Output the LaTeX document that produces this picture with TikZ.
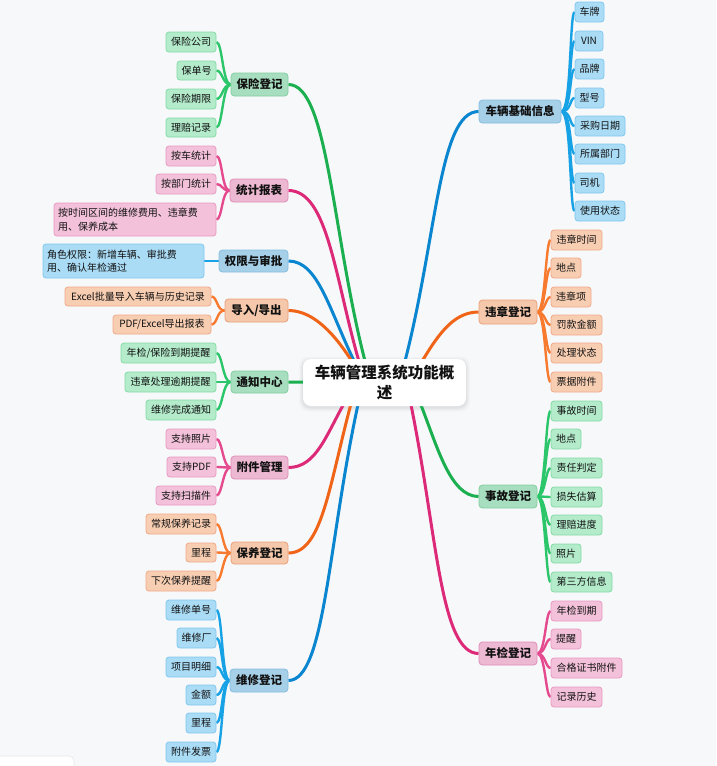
\documentclass[tikz,border=0pt]{standalone}
\usepackage{fontspec}
\setmainfont{Noto Sans CJK SC}
\usetikzlibrary{calc}
\definecolor{bgc}{HTML}{F7F8FA}
\definecolor{txt}{HTML}{111111}
% connector colours
\definecolor{cBc}{HTML}{0A86D0}\definecolor{eBc}{HTML}{17A2E6}
\definecolor{cGc}{HTML}{1BAF50}\definecolor{eGc}{HTML}{2CC66A}
\definecolor{cOc}{HTML}{F06418}\definecolor{eOc}{HTML}{F77A2E}
\definecolor{cPc}{HTML}{DD2A78}\definecolor{ePc}{HTML}{E5498E}
% fills
\definecolor{mBf}{HTML}{A6CFE8}\definecolor{mBd}{HTML}{86BEE0}
\definecolor{lBf}{HTML}{AADCF6}\definecolor{lBd}{HTML}{80C8EE}
\definecolor{mGf}{HTML}{A8DEC0}\definecolor{mGd}{HTML}{82CFA0}
\definecolor{lGf}{HTML}{B3EBCB}\definecolor{lGd}{HTML}{84DBA6}
\definecolor{mPf}{HTML}{EDB8D2}\definecolor{mPd}{HTML}{E08FB8}
\definecolor{lPf}{HTML}{F3C2DA}\definecolor{lPd}{HTML}{E89AC2}
\definecolor{mOf}{HTML}{F5C7AB}\definecolor{mOd}{HTML}{ECA07A}
\definecolor{lOf}{HTML}{F8CEB3}\definecolor{lOd}{HTML}{F0A987}
\pgfdeclarelayer{lines}
\pgfsetlayers{lines,main}
\newcommand\nd[7]{\node[#1, minimum width={(#5)-(#3)}, minimum height={(#6)-(#4)}] (#2) at ({((#3)+(#5))/2},{((#4)+(#6))/2}) {#7};}
\begin{document}
\begin{tikzpicture}[x=1pt,y=-1pt,
  box/.style={rounded corners=3pt, line width=0.8pt, inner sep=1pt, text=txt, font=\fontsize{10}{12}\selectfont},
  mbox/.style={box, rounded corners=3.5pt, font=\fontsize{11.5}{13}\selectfont\bfseries},
  lB/.style={box, fill=lBf, draw=lBd}, mB/.style={mbox, fill=mBf, draw=mBd},
  lG/.style={box, fill=lGf, draw=lGd}, mG/.style={mbox, fill=mGf, draw=mGd},
  lP/.style={box, fill=lPf, draw=lPd}, mP/.style={mbox, fill=mPf, draw=mPd},
  lO/.style={box, fill=lOf, draw=lOd}, mO/.style={mbox, fill=mOf, draw=mOd},
  rootbox/.style={fill=white, rounded corners=8pt, align=center, text=txt, inner sep=0pt,
     font=\fontsize{15.5}{20}\selectfont\bfseries},
  cB/.style={draw=cBc, line width=3pt}, eB/.style={draw=eBc, line width=2.4pt},
  cG/.style={draw=cGc, line width=3pt}, eG/.style={draw=eGc, line width=2.4pt},
  cO/.style={draw=cOc, line width=3pt}, eO/.style={draw=eOc, line width=2.4pt},
  cP/.style={draw=cPc, line width=3pt}, eP/.style={draw=ePc, line width=2.4pt},
  multi/.style={align=left, inner xsep=4pt, font=\fontsize{10}{13.5}\selectfont}
]
\useasboundingbox (0,0) rectangle (716,766);

% ---------- root ----------
\nd{rootbox}{root}{303}{359}{466}{406}{车辆管理系统功能概\\述}

% ---------- left main nodes ----------
\nd{mG}{ins}{231}{73}{288}{96}{保险登记}
\nd{mP}{sta}{230}{179}{288}{202}{统计报表}
\nd{mB}{auth}{219}{250}{288}{272}{权限与审批}
\nd{mO}{io}{225}{299}{288}{322}{导入/导出}
\nd{mG}{ntf}{231}{371}{288}{393}{通知中心}
\nd{mP}{att}{231}{456}{288}{479}{附件管理}
\nd{mO}{mnt}{231}{542}{288}{564}{保养登记}
\nd{mB}{rep}{230}{669}{288}{692}{维修登记}
% ---------- right main nodes ----------
\nd{mB}{veh}{479}{100}{561}{123}{车辆基础信息}
\nd{mO}{vio}{479}{300}{537}{324}{违章登记}
\nd{mG}{acc}{479}{485}{537}{508}{事故登记}
\nd{mP}{ann}{479}{642}{537}{665}{年检登记}

% ---------- leaves ----------
\nd{lG}{g1}{166}{32}{216}{52}{保险公司}
\nd{lG}{g2}{177}{61}{216}{80}{保单号}
\nd{lG}{g3}{166}{89}{216}{109}{保险期限}
\nd{lG}{g4}{166}{118}{216}{137}{理赔记录}

\nd{lP}{p1}{166}{146}{216}{166}{按车统计}
\nd{lP}{p2}{156}{174}{216}{194}{按部门统计}
\node[lP, multi, text width=154pt, minimum height=33pt] (p3) at (135,219.5) {按时间区间的维修费用、违章费\\用、保养成本};

\node[lB, multi, text width=153pt, minimum height=34pt] (b1) at (123.5,261) {角色权限：新增车辆、审批费\\用、确认年检通过};

\nd{lO}{o1}{65}{287}{211}{306}{Excel批量导入车辆与历史记录}
\nd{lO}{o2}{113}{315}{211}{334}{PDF/Excel导出报表}

\nd{lG}{n1}{121}{343}{216}{363}{年检/保险到期提醒}
\nd{lG}{n2}{125}{372}{216}{392}{违章处理逾期提醒}
\nd{lG}{n3}{146}{400}{216}{420}{维修完成通知}

\nd{lP}{a1}{166}{429}{216}{449}{支持照片}
\nd{lP}{a2}{167}{457}{216}{477}{支持PDF}
\nd{lP}{a3}{156}{486}{216}{505}{支持扫描件}

\nd{lO}{m1}{146}{514}{216}{534}{常规保养记录}
\nd{lO}{m2}{186}{543}{216}{562}{里程}
\nd{lO}{m3}{146}{571}{216}{591}{下次保养提醒}

\nd{lB}{r1}{166}{600}{216}{620}{维修单号}
\nd{lB}{r2}{177}{628}{216}{648}{维修厂}
\nd{lB}{r3}{166}{657}{216}{677}{项目明细}
\nd{lB}{r4}{186}{685}{216}{705}{金额}
\nd{lB}{r5}{186}{713}{216}{733}{里程}
\nd{lB}{r6}{166}{742}{216}{762}{附件发票}

\nd{lB}{v1}{575}{2}{604}{22}{车牌}
\nd{lB}{v2}{575}{31}{603}{51}{VIN}
\nd{lB}{v3}{575}{59}{604}{79}{品牌}
\nd{lB}{v4}{575}{88}{604}{108}{型号}
\nd{lB}{v5}{575}{116}{625}{136}{采购日期}
\nd{lB}{v6}{575}{144}{625}{164}{所属部门}
\nd{lB}{v7}{575}{173}{604}{193}{司机}
\nd{lB}{v8}{575}{201}{625}{221}{使用状态}

\nd{lO}{w1}{551}{230}{602}{250}{违章时间}
\nd{lO}{w2}{551}{258}{581}{278}{地点}
\nd{lO}{w3}{551}{287}{591}{307}{违章项}
\nd{lO}{w4}{551}{315}{602}{335}{罚款金额}
\nd{lO}{w5}{551}{343}{602}{363}{处理状态}
\nd{lO}{w6}{551}{372}{602}{392}{票据附件}

\nd{lG}{c1}{551}{401}{602}{421}{事故时间}
\nd{lG}{c2}{551}{429}{581}{449}{地点}
\nd{lG}{c3}{551}{458}{602}{478}{责任判定}
\nd{lG}{c4}{551}{487}{602}{507}{损失估算}
\nd{lG}{c5}{551}{515}{602}{535}{理赔进度}
\nd{lG}{c6}{551}{544}{581}{563}{照片}
\nd{lG}{c7}{551}{572}{612}{592}{第三方信息}

\nd{lP}{y1}{551}{601}{602}{621}{年检到期}
\nd{lP}{y2}{551}{629}{581}{649}{提醒}
\nd{lP}{y3}{551}{658}{622}{678}{合格证书附件}
\nd{lP}{y4}{551}{687}{602}{707}{记录历史}

% bottom-left panel edge
\draw[draw=black!9, fill=white, rounded corners=5pt, line width=0.6pt] (-6,756) rectangle (74,790);

% ---------- connectors (under nodes) ----------
\begin{pgfonlayer}{lines}
\fill[bgc] (0,0) rectangle (716,766);
% soft shadow of root
\foreach \d/\o in {4/0.015,3/0.02,2/0.025,1/0.03}
  \fill[black, opacity=\o, rounded corners=9pt] (303-\d,359-\d+1.5) rectangle (466+\d,406+\d+1.5);

% root -> main
\draw[cG] (root.center) -- ++(-18.5,-17.5) .. controls +(-34,-130) and +(40,0) .. (ins.east);
\draw[cP] (root.center) -- ++(-24.5,-17.5) .. controls +(-25,-85) and +(40,0) .. (sta.east);
\draw[cB] (root.center) -- ++(-28.5,-17.5) .. controls +(-27,-55) and +(30,0) .. (auth.east);
\draw[cO] (root.center) -- ++(-28.5,-14.5) .. controls +(-18,-30) and +(27,0) .. (io.east);
\draw[cG] (root) -- (ntf);
\draw[cP] (root.center) -- ++(-38.5,17.5) .. controls +(-20,35) and +(28,0) .. (att.east);
\draw[cO] (root.center) -- ++(-32.5,17.5) .. controls +(-23,85) and +(34,0) .. (mnt.east);
\draw[cB] (root.center) -- ++(-25.5,17.5) .. controls +(-31,140) and +(37,0) .. (rep.east);
\draw[cB] (root.center) -- ++(19.5,-17.5) .. controls +(33,-126) and +(-40,0) .. (veh.west);
\draw[cO] (root.center) -- ++(33.5,-14.5) .. controls +(18,-30) and +(-27,0) .. (vio.west);
\draw[cG] (root.center) -- ++(34.5,17.5) .. controls +(18,45) and +(-29,0) .. (acc.west);
\draw[cP] (root.center) -- ++(25.5,17.5) .. controls +(27,130) and +(-39,0) .. (ann.west);

% main -> leaves (left)
\foreach \n in {g1,g2,g3,g4} \draw[eG] (\n.east) .. controls +(6,0) and +(-8,0) .. (ins.west);
\foreach \n in {p1,p2,p3} \draw[eP] (\n.east) .. controls +(6,0) and +(-8,0) .. (sta.west);
\draw[eB] (b1) -- (auth);
\foreach \n in {o1,o2} \draw[eO] (\n.east) .. controls +(6,0) and +(-8,0) .. (io.west);
\foreach \n in {n1,n2,n3} \draw[eG] (\n.east) .. controls +(6,0) and +(-8,0) .. (ntf.west);
\foreach \n in {a1,a2,a3} \draw[eP] (\n.east) .. controls +(6,0) and +(-8,0) .. (att.west);
\foreach \n in {m1,m2,m3} \draw[eO] (\n.east) .. controls +(6,0) and +(-8,0) .. (mnt.west);
\foreach \n in {r1,r2,r3,r4,r5,r6} \draw[eB] (\n.east) .. controls +(6,0) and +(-8,0) .. (rep.west);
% main -> leaves (right)
\foreach \n in {v1,v2,v3,v4,v5,v6,v7,v8} \draw[eB] (veh.east) .. controls +(10,0) and +(-5,0) .. (\n.west);
\foreach \n in {w1,w2,w3,w4,w5,w6} \draw[eO] (vio.east) .. controls +(8,0) and +(-5,0) .. (\n.west);
\foreach \n in {c1,c2,c3,c4,c5,c6,c7} \draw[eG] (acc.east) .. controls +(8,0) and +(-5,0) .. (\n.west);
\foreach \n in {y1,y2,y3,y4} \draw[eP] (ann.east) .. controls +(8,0) and +(-5,0) .. (\n.west);
\end{pgfonlayer}
\end{tikzpicture}
\end{document}
